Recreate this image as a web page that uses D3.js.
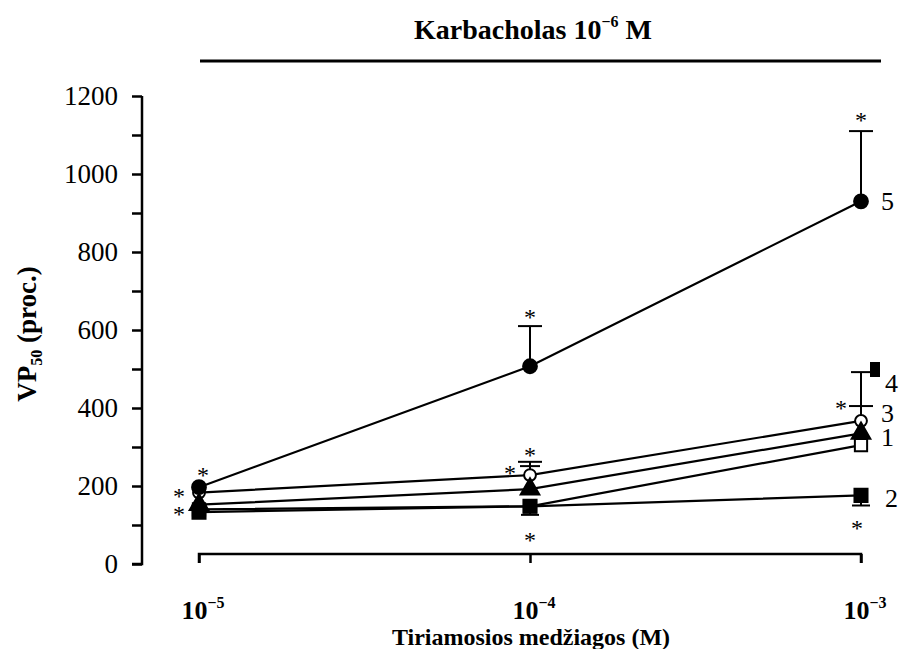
<!DOCTYPE html>
<html>
<head>
<meta charset="utf-8">
<script src="https://cdn.jsdelivr.net/npm/d3@7"></script>
<style>
  body { margin: 0; background: #fff; }
  svg text { font-family: "Times New Roman", Times, Tinos, "Liberation Serif", "DejaVu Serif", "Noto Serif", serif; }
</style>
</head>
<body>
<svg id="chart" width="904" height="649"></svg>
<script>
// concentrations on the x axis (log scale)
const conc = [1e-5, 1e-4, 1e-3];
const xTickExp = ['−5', '−4', '−3'];
const yTicks = [0, 200, 400, 600, 800, 1000, 1200];

// VP50 (%) per series
const s1 = [140, 148, 305];   // open square
const s2 = [133, 148, 176];   // filled square
const s3 = [152, 192, 335];   // triangle
const s4 = [183, 228, 367];   // open circle
const s5 = [197, 507, 930];   // filled circle

// error bar ends (null = none drawn)
const s2err = [null, 126, 150];
const s3err = [null, 251, 492];
const s4err = [null, 262, 405];
const s5err = [null, 610, 1110];

// where the series numbers sit at the right end
const labelNames = ['5', '4', '3', '1', '2'];
const labelVals = [930, 464, 387, 326, 169];

// significance asterisks: [concentration index, value, horizontal offset]
const stars = [
  [0, 236, 4], [0, 183, -20], [0, 137, -20],
  [1, 640, 0], [1, 286, 0], [1, 241, -20], [1, 68, 0],
  [2, 1146, 0], [2, 408, -20], [2, 100, -4]
];

const svg = d3.select('#chart');

const x = d3.scaleLog().domain([1e-5, 1e-3]).range([199, 861]);
const y = d3.scaleLinear().domain([0, 1200]).range([564, 96]);

// title + rule under it
const title = svg.append('text')
  .attr('x', 533).attr('y', 39)
  .attr('text-anchor', 'middle')
  .attr('font-weight', 'bold').attr('font-size', 28);
title.append('tspan').text('Karbacholas 10');
title.append('tspan').attr('font-size', 16).attr('dy', -12).text('−6');
title.append('tspan').attr('dy', 12).text(' M');

svg.append('line')
  .attr('x1', 200).attr('x2', 881).attr('y1', 61).attr('y2', 61)
  .attr('stroke', '#000').attr('stroke-width', 3);

// y axis
const yAxis = svg.append('g')
  .attr('transform', 'translate(142,0)')
  .call(d3.axisLeft(y).tickValues(d3.range(0, 1201, 100)).tickSize(10).tickFormat(''));
yAxis.select('.domain').attr('stroke-width', 2.5).attr('d', `M0,${y(1200)}V${y(0)}H-10`);
yAxis.selectAll('.tick line').attr('stroke-width', 2.5);

svg.append('g').selectAll('text')
  .data(yTicks)
  .join('text')
  .attr('x', 118).attr('y', (d) => y(d) + 9)
  .attr('text-anchor', 'end').attr('font-size', 27)
  .text((d) => d);

svg.append('text')
  .attr('transform', `translate(36,${y(600) + 4}) rotate(-90)`)
  .attr('text-anchor', 'middle')
  .attr('font-weight', 'bold').attr('font-size', 27)
  .call((t) => {
    t.append('tspan').text('VP');
    t.append('tspan').attr('font-size', 16).attr('dy', 6).text('50');
    t.append('tspan').attr('dy', -6).text(' (proc.)');
  });

// x axis
const xAxis = svg.append('g')
  .attr('transform', 'translate(0,554)')
  .call(d3.axisBottom(x).tickValues(conc).tickSize(9).tickFormat(''));
xAxis.select('.domain').attr('stroke-width', 2.5)
  .attr('d', `M${x(1e-5)},9V0H${x(1e-3)}V9`);
xAxis.selectAll('.tick line').attr('stroke-width', 2.5);

conc.forEach((c, i) => {
  const t = svg.append('text')
    .attr('x', x(c) + 4).attr('y', 619)
    .attr('text-anchor', 'middle')
    .attr('font-weight', 'bold').attr('font-size', 26);
  t.append('tspan').text('10');
  t.append('tspan').attr('font-size', 16).attr('dy', -11).text(xTickExp[i]);
});

svg.append('text')
  .attr('x', 531).attr('y', 645)
  .attr('text-anchor', 'middle')
  .attr('font-weight', 'bold').attr('font-size', 24)
  .text('Tiriamosios medžiagos (M)');

// error bars
function errBars(vals, errs, halfCap) {
  const g = svg.append('g').attr('stroke', '#000').attr('stroke-width', 2);
  errs.forEach((e, i) => {
    if (e === null) return;
    g.append('line').attr('x1', x(conc[i])).attr('x2', x(conc[i]))
      .attr('y1', y(vals[i])).attr('y2', y(e));
    g.append('line').attr('x1', x(conc[i]) - halfCap).attr('x2', x(conc[i]) + halfCap)
      .attr('y1', y(e)).attr('y2', y(e));
  });
}
errBars(s5, s5err, 12);
errBars(s4, s4err, 12);
errBars(s3, s3err, 10);
errBars(s2, s2err, 9);

// lines
const line = d3.line().x((d, i) => x(conc[i])).y((d) => y(d));
[s1, s2, s3, s4, s5].forEach((s) => {
  svg.append('path').datum(s)
    .attr('d', line)
    .attr('fill', 'none').attr('stroke', '#000').attr('stroke-width', 2.2);
});

// markers
const sym = (type, size, fill, s) => {
  svg.append('g').selectAll('path')
    .data(s)
    .join('path')
    .attr('transform', (d, i) => `translate(${x(conc[i])},${y(d)})`)
    .attr('d', d3.symbol().type(type).size(size))
    .attr('fill', fill).attr('stroke', '#000').attr('stroke-width', 2);
};
sym(d3.symbolSquare, 150, '#fff', s1);
sym(d3.symbolCircle, 110, '#fff', s4);
sym(d3.symbolTriangle, 150, '#000', s3);
sym(d3.symbolCircle, 150, '#000', s5);
sym(d3.symbolSquare, 170, '#000', s2);

// small filled block beside the tall error bar at 10^-3
svg.append('rect')
  .attr('x', x(1e-3) + 9).attr('y', y(500) - 7)
  .attr('width', 10).attr('height', 15).attr('fill', '#000');

// series numbers
svg.append('g').selectAll('text')
  .data(labelNames)
  .join('text')
  .attr('x', (d) => (d === '4' || d === '2' ? x(1e-3) + 24 : x(1e-3) + 20))
  .attr('y', (d, i) => y(labelVals[i]) + 9)
  .attr('font-size', 26)
  .text((d) => d);

// asterisks
svg.append('g').selectAll('text')
  .data(stars)
  .join('text')
  .attr('x', (d) => x(conc[d[0]]) + d[2])
  .attr('y', (d) => y(d[1]) + 11)
  .attr('text-anchor', 'middle')
  .attr('font-size', 24)
  .attr('fill', '#000')
  .text('*');
</script>
</body>
</html>
